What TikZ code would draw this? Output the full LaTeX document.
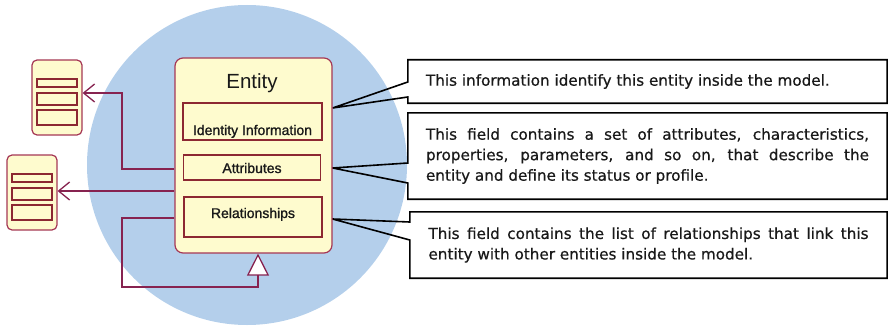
\documentclass[tikz,border=0pt]{standalone}
\usepackage{fontspec}
\newfontfamily\umlfont{Liberation Sans}
\newfontfamily\fieldfont{Liberation Sans}[FakeBold=1.2]
\newfontfamily\notefont{DejaVu Sans}[FakeBold=0.6]
\usetikzlibrary{arrows.meta,backgrounds,calc}

\definecolor{sky}{RGB}{180,207,235}
\definecolor{entfill}{RGB}{254,251,206}
\definecolor{entline}{RGB}{165,55,85}
\definecolor{fieldline}{RGB}{140,40,50}
\definecolor{linkcol}{RGB}{135,35,80}
\definecolor{ink}{RGB}{25,25,25}

\tikzset{
  entitybox/.style={draw=entline, fill=entfill, line width=1.2pt,
    rounded corners=8pt, inner sep=0pt},
  minibox/.style={draw=entline, fill=entfill, line width=1.2pt,
    rounded corners=5pt, minimum width=50pt, minimum height=75pt, inner sep=0pt},
  fieldbox/.style={draw=fieldline, line width=1.4pt, inner sep=0pt,
    text=ink, font=\fieldfont\fontsize{14}{16}\selectfont},
  minifield/.style={draw=fieldline, line width=1.3pt},
  titletext/.style={inner sep=0pt, text=ink, font=\umlfont\fontsize{20.5}{24}\selectfont},
  link/.style={draw=linkcol, line width=1.5pt},
  barb/.style={-{Straight Barb[length=11pt,width=18pt,line width=1.3pt]}},
  generalize/.style={-{Triangle[length=22pt,width=22pt,fill=white,line width=1.3pt]}},
  callout/.style={draw=black, line width=1.6pt, line join=miter},
  notebox/.style={inner ysep=0pt, text=ink, align=justify,
    font=\notefont\fontsize{15.2}{20.5}\selectfont},
  minient/.pic={
    \node[minibox] (-box) {};
    \draw[minifield] (-20,-18.5) rectangle (20,-10.5);
    \draw[minifield] (-20,-4.5) rectangle (20,7.5);
    \draw[minifield] (-20,12.5) rectangle (20,27.5);
  }
}

\begin{document}
\begin{tikzpicture}[x=1pt,y=-1pt]
\useasboundingbox (0,0) rectangle (888,329);

% main entity with its three fields
\node[entitybox, minimum width=157pt, minimum height=195pt] (entity) at (253.5,155.5) {};
\node[titletext, anchor=base] (title) at (252,88) {Entity};
\node[fieldbox, minimum width=139pt, minimum height=37pt,
      text height=27pt, text depth=0pt] (idinfo) at (252.5,121.5) {Identity Information};
\node[fieldbox, minimum width=137pt, minimum height=25pt,
      text height=11pt, text depth=0pt] (attrs) at (252,167.5) {Attributes};
\node[fieldbox, minimum width=138pt, minimum height=40pt,
      text height=6pt, text depth=4pt] (rels) at (253,217) {Relationships};

% related entities
\pic (e1) at (57,97.5) {minient};
\pic (e2) at (32,192.5) {minient};

% associations and the self generalization
\coordinate (up1) at (122,93);
\coordinate (loop1) at (122,287);
\draw[link, barb] (entity.west |- 0,169) -| (up1) -- (e1-box.east |- up1);
\draw[link, barb] (entity.west |- 0,191) -- (e2-box.east |- 0,191);
\draw[link, generalize] (entity.west |- 0,218) -| (loop1) -| (entity.south -| 258,0);

% notes
\node[notebox, text width=443pt, inner xsep=18pt, minimum height=43pt] (note1) at (647.5,81.5)
  {This information identify this entity inside the model.};
\node[notebox, text width=443pt, inner xsep=18pt, minimum height=86pt] (note2) at (647.5,156)
  {This field contains a set of attributes, characteristics,\linebreak
   properties, parameters, and so on, that describe the\linebreak
   entity and define its status or profile.};
\node[notebox, text width=440pt, inner xsep=18.5pt, minimum height=66pt] (note3) at (648.5,245)
  {This field contains the list of relationships that link this\linebreak
   entity with other entities inside the model.};

\coordinate (tip1) at (entity.east |- 0,108);
\coordinate (tip2) at (entity.east |- 0,168);
\coordinate (tip3) at (entity.east |- 0,219);

\begin{scope}[on background layer]
  \fill[sky] (247,165) circle[radius=160pt];
  \fill[white] (note1.north west) rectangle (note1.south east);
  \fill[white] (note2.north west) rectangle (note2.south east);
  \fill[white] (note3.north west) rectangle (note3.south east);
  \draw[callout] (note1.north west) -- (note1.north east) -- (note1.south east)
    -- (note1.south west) -- (note1.west |- 0,97) -- (tip1) -- (note1.west |- 0,82) -- cycle;
  \draw[callout] (note2.north west) -- (note2.north east) -- (note2.south east)
    -- (note2.south west) -- (note2.west |- 0,183) -- (tip2) -- (note2.west |- 0,163) -- cycle;
  \draw[callout] (note3.north west) -- (note3.north east) -- (note3.south east)
    -- (note3.south west) -- (note3.west |- 0,240) -- (tip3) -- (note3.west |- 0,222) -- cycle;
\end{scope}
\end{tikzpicture}
\end{document}
